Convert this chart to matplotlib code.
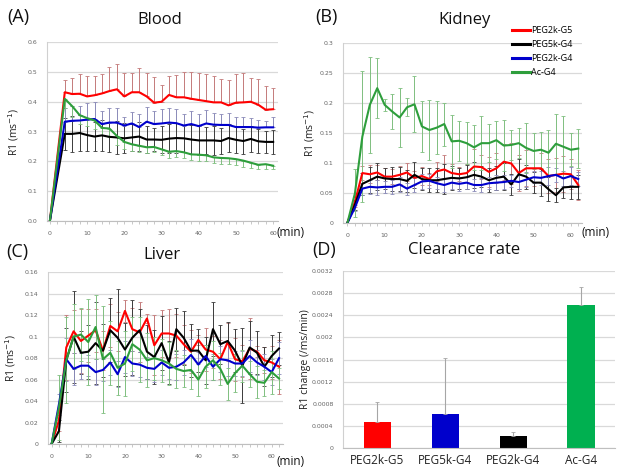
import matplotlib
matplotlib.use("Agg")
import matplotlib.pyplot as plt
from matplotlib.ticker import MultipleLocator

# ---------------- data ----------------
series_names = ["PEG2k-G5", "PEG5k-G4", "PEG2k-G4", "Ac-G4"]

# Blood (A)
blood_t = [0, 4, 6, 8, 10, 12, 14, 16, 18, 20, 22, 24, 26, 28, 30, 32, 34, 36, 38, 40,
           42, 44, 46, 48, 50, 52, 54, 56, 58, 60]
blood_red = [0, 0.432, 0.426, 0.427, 0.418, 0.422, 0.428, 0.436, 0.442, 0.418, 0.432, 0.432,
             0.418, 0.397, 0.400, 0.423, 0.415, 0.415, 0.410, 0.406, 0.402, 0.398, 0.398,
             0.388, 0.397, 0.398, 0.400, 0.390, 0.373, 0.375]
blood_black = [0, 0.292, 0.292, 0.295, 0.288, 0.283, 0.287, 0.282, 0.280, 0.277, 0.280, 0.283,
               0.273, 0.273, 0.272, 0.276, 0.278, 0.277, 0.273, 0.270, 0.270, 0.270, 0.268,
               0.278, 0.272, 0.268, 0.275, 0.267, 0.265, 0.265]
blood_blue = [0, 0.333, 0.336, 0.337, 0.340, 0.342, 0.325, 0.330, 0.330, 0.320, 0.327, 0.315,
              0.333, 0.325, 0.327, 0.330, 0.328, 0.320, 0.325, 0.318, 0.327, 0.323, 0.322,
              0.322, 0.315, 0.315, 0.315, 0.313, 0.314, 0.314]
blood_green = [0, 0.410, 0.385, 0.355, 0.345, 0.337, 0.312, 0.310, 0.285, 0.265, 0.257, 0.252,
               0.247, 0.248, 0.240, 0.232, 0.234, 0.230, 0.223, 0.222, 0.220, 0.213, 0.211,
               0.210, 0.207, 0.202, 0.195, 0.188, 0.190, 0.185]
blood_red_err = [0, 0.040, 0.055, 0.065, 0.070, 0.065, 0.065, 0.080, 0.085, 0.080, 0.065, 0.080,
                 0.080, 0.085, 0.055, 0.065, 0.075, 0.085, 0.090, 0.090, 0.090, 0.090, 0.080,
                 0.085, 0.095, 0.100, 0.080, 0.085, 0.080, 0.070]
blood_black_err = [0, 0.055, 0.060, 0.060, 0.055, 0.050, 0.052, 0.050, 0.055, 0.050, 0.045, 0.050,
                   0.045, 0.040, 0.045, 0.048, 0.050, 0.045, 0.050, 0.048, 0.045, 0.050, 0.045,
                   0.048, 0.045, 0.042, 0.045, 0.040, 0.038, 0.040]
blood_blue_err = [0, 0.045, 0.050, 0.050, 0.055, 0.058, 0.045, 0.050, 0.048, 0.030, 0.040, 0.045,
                  0.050, 0.045, 0.050, 0.050, 0.048, 0.040, 0.045, 0.040, 0.045, 0.040, 0.038,
                  0.040, 0.035, 0.035, 0.030, 0.025, 0.020, 0.035]
blood_green_err = [0, 0.030, 0.035, 0.030, 0.025, 0.028, 0.025, 0.030, 0.030, 0.025, 0.022, 0.020,
                   0.020, 0.018, 0.020, 0.022, 0.020, 0.018, 0.020, 0.022, 0.018, 0.020, 0.020,
                   0.018, 0.020, 0.020, 0.018, 0.015, 0.015, 0.010]

# Kidney (B)
kid_t = [0, 2, 4, 6, 8, 10, 12, 14, 16, 18, 20, 22, 24, 26, 28, 30, 32, 34, 36, 38, 40, 42,
         44, 46, 48, 50, 52, 54, 56, 58, 60, 62]
kid_red = [0, 0.035, 0.083, 0.081, 0.084, 0.077, 0.077, 0.080, 0.084, 0.075, 0.078, 0.073,
           0.086, 0.089, 0.083, 0.081, 0.083, 0.094, 0.093, 0.085, 0.091, 0.102, 0.099, 0.083,
           0.091, 0.091, 0.091, 0.078, 0.080, 0.082, 0.081, 0.063]
kid_black = [0, 0.030, 0.065, 0.071, 0.077, 0.074, 0.073, 0.073, 0.070, 0.080, 0.073, 0.071,
             0.071, 0.073, 0.075, 0.074, 0.076, 0.080, 0.077, 0.071, 0.075, 0.077, 0.064, 0.081,
             0.077, 0.067, 0.067, 0.056, 0.046, 0.059, 0.060, 0.060]
kid_blue = [0, 0.025, 0.057, 0.060, 0.059, 0.060, 0.060, 0.064, 0.057, 0.063, 0.069, 0.070,
            0.066, 0.063, 0.067, 0.065, 0.067, 0.063, 0.063, 0.066, 0.067, 0.068, 0.070, 0.068,
            0.072, 0.076, 0.075, 0.078, 0.080, 0.074, 0.078, 0.073]
kid_green = [0, 0.049, 0.144, 0.197, 0.225, 0.197, 0.186, 0.176, 0.193, 0.198, 0.161, 0.155,
             0.159, 0.165, 0.136, 0.137, 0.133, 0.126, 0.133, 0.133, 0.138, 0.129, 0.130, 0.133,
             0.125, 0.120, 0.122, 0.117, 0.132, 0.127, 0.122, 0.124]
kid_red_err = [0, 0.008, 0.012, 0.015, 0.012, 0.015, 0.012, 0.015, 0.015, 0.012, 0.015, 0.010,
               0.016, 0.025, 0.015, 0.012, 0.015, 0.030, 0.020, 0.025, 0.025, 0.030, 0.035, 0.030,
               0.030, 0.030, 0.025, 0.028, 0.028, 0.030, 0.025, 0.025]
kid_black_err = [0, 0.008, 0.018, 0.022, 0.022, 0.018, 0.020, 0.020, 0.018, 0.022, 0.018, 0.020,
                 0.020, 0.025, 0.020, 0.018, 0.020, 0.022, 0.018, 0.020, 0.020, 0.022, 0.018, 0.025,
                 0.020, 0.018, 0.022, 0.020, 0.012, 0.018, 0.020, 0.020]
kid_blue_err = [0, 0.005, 0.010, 0.012, 0.012, 0.010, 0.012, 0.012, 0.010, 0.012, 0.012, 0.012,
                0.010, 0.012, 0.010, 0.012, 0.010, 0.010, 0.012, 0.010, 0.012, 0.012, 0.010, 0.012,
                0.012, 0.010, 0.012, 0.015, 0.012, 0.012, 0.015, 0.012]
kid_green_err = [0, 0.040, 0.110, 0.080, 0.050, 0.010, 0.030, 0.050, 0.015, 0.047, 0.042, 0.050,
                 0.044, 0.036, 0.044, 0.033, 0.035, 0.038, 0.045, 0.032, 0.032, 0.042, 0.025, 0.025,
                 0.042, 0.030, 0.030, 0.038, 0.050, 0.052, 0.028, 0.032]

# Liver (C)
liv_t = kid_t
liv_red = [0, 0.022, 0.090, 0.105, 0.096, 0.101, 0.106, 0.087, 0.110, 0.105, 0.124, 0.107,
           0.104, 0.117, 0.092, 0.103, 0.103, 0.101, 0.093, 0.086, 0.097, 0.088, 0.086, 0.079,
           0.095, 0.079, 0.077, 0.089, 0.086, 0.078, 0.076, 0.072]
liv_black = [0, 0.012, 0.078, 0.100, 0.085, 0.086, 0.094, 0.087, 0.106, 0.099, 0.088, 0.099,
             0.106, 0.086, 0.081, 0.094, 0.076, 0.107, 0.099, 0.087, 0.087, 0.078, 0.107, 0.093,
             0.096, 0.087, 0.073, 0.090, 0.085, 0.072, 0.082, 0.089]
liv_blue = [0, 0.037, 0.079, 0.070, 0.073, 0.073, 0.067, 0.069, 0.076, 0.065, 0.081, 0.075,
            0.074, 0.071, 0.070, 0.076, 0.071, 0.072, 0.076, 0.083, 0.074, 0.082, 0.072, 0.079,
            0.078, 0.075, 0.075, 0.082, 0.076, 0.072, 0.067, 0.080]
liv_green = [0, 0.034, 0.078, 0.100, 0.102, 0.095, 0.109, 0.079, 0.085, 0.071, 0.075, 0.093,
             0.088, 0.078, 0.080, 0.078, 0.075, 0.070, 0.068, 0.069, 0.060, 0.072, 0.078, 0.070,
             0.056, 0.066, 0.073, 0.065, 0.058, 0.057, 0.067, 0.061]
liv_red_err = [0, 0.010, 0.030, 0.020, 0.030, 0.025, 0.020, 0.018, 0.020, 0.018, 0.010, 0.020,
               0.028, 0.004, 0.028, 0.022, 0.023, 0.020, 0.018, 0.020, 0.005, 0.020, 0.015, 0.018,
               0.018, 0.020, 0.015, 0.028, 0.005, 0.012, 0.015, 0.025]
liv_black_err = [0, 0.010, 0.030, 0.043, 0.020, 0.025, 0.038, 0.025, 0.030, 0.045, 0.025, 0.035,
                 0.020, 0.025, 0.025, 0.025, 0.020, 0.020, 0.025, 0.025, 0.020, 0.022, 0.025, 0.018,
                 0.018, 0.020, 0.035, 0.025, 0.020, 0.018, 0.020, 0.015]
liv_blue_err = [0, 0.010, 0.020, 0.015, 0.012, 0.010, 0.012, 0.010, 0.012, 0.012, 0.015, 0.012,
                0.012, 0.010, 0.012, 0.012, 0.010, 0.012, 0.012, 0.015, 0.012, 0.010, 0.012, 0.012,
                0.015, 0.012, 0.012, 0.015, 0.012, 0.012, 0.012, 0.015]
liv_green_err = [0, 0.030, 0.040, 0.030, 0.025, 0.040, 0.030, 0.050, 0.030, 0.025, 0.030, 0.025,
                 0.030, 0.025, 0.020, 0.020, 0.020, 0.018, 0.015, 0.018, 0.015, 0.020, 0.018, 0.015,
                 0.015, 0.018, 0.015, 0.012, 0.015, 0.012, 0.020, 0.010]

# Clearance rate (D)
clear_labels = ["PEG2k-G5", "PEG5k-G4", "PEG2k-G4", "Ac-G4"]
clear_vals = [0.00047, 0.000625, 0.000215, 0.00258]
clear_err = [0.00036, 0.00100, 0.000075, 0.00033]

# ---------------- style ----------------
line_colors = ["#ff0000", "#000000", "#0000cc", "#2e9e3c"]
err_colors = ["#c47a7a", "#3a3a3a", "#8a8ab8", "#7fbf7f"]
bar_colors = ["#ff0000", "#0000cc", "#000000", "#00b050"]
grid_c = "#d9d9d9"
tick_c = "#666666"
TXT = ["Open Sans", "DejaVu Sans"]

W, H = 624, 473
fig = plt.figure(figsize=(W / 100, H / 100), dpi=100)


def px_ax(l, t, r, b):
    return fig.add_axes([l / W, 1 - b / H, (r - l) / W, (b - t) / H])


def style_ax(ax):
    for s in ["top", "right"]:
        ax.spines[s].set_visible(False)
    ax.spines["left"].set_color("#d0d0d0")
    ax.spines["bottom"].set_color("#bfbfbf")
    ax.spines["left"].set_linewidth(0.8)
    ax.spines["bottom"].set_linewidth(0.8)
    ax.yaxis.grid(True, color=grid_c, linewidth=0.9)
    ax.set_axisbelow(True)
    ax.tick_params(axis="y", length=0, pad=7, labelsize=4.5, labelcolor=tick_c)
    ax.tick_params(axis="x", which="both", direction="out", length=2.5, width=0.6,
                   color="#bfbfbf", labelsize=4.5, labelcolor=tick_c, pad=5)


def draw_time(ax, t, ys, errs, dirs):
    for y, e, c, ec, d in zip(ys, errs, line_colors, err_colors, dirs):
        lo = e if d in ("both", "down") else [0] * len(e)
        hi = e if d in ("both", "up") else [0] * len(e)
        ax.errorbar(t, y, yerr=[lo, hi], fmt="none", ecolor=ec, elinewidth=0.7,
                    capsize=1.3, capthick=0.6, zorder=2)
    for y, c in zip(ys, line_colors):
        ax.plot(t, y, color=c, linewidth=1.5, zorder=3)
    ax.xaxis.set_major_locator(MultipleLocator(10))
    ax.xaxis.set_minor_locator(MultipleLocator(2))


# A Blood
axA = px_ax(47.3, 42.3, 278, 220.7)
style_ax(axA)
draw_time(axA, blood_t, [blood_red, blood_black, blood_blue, blood_green],
          [blood_red_err, blood_black_err, blood_blue_err, blood_green_err],
          ["up", "both", "up", "down"])
axA.set_xlim(-0.7, 61.3)
axA.set_ylim(0, 0.6)
axA.set_yticks([0, 0.1, 0.2, 0.3, 0.4, 0.5, 0.6])
axA.set_yticklabels(["0.0", "0.1", "0.2", "0.3", "0.4", "0.5", "0.6"])

# B Kidney
axB = px_ax(343, 43.3, 582, 222.7)
style_ax(axB)
draw_time(axB, kid_t, [kid_red, kid_black, kid_blue, kid_green],
          [kid_red_err, kid_black_err, kid_blue_err, kid_green_err],
          ["both", "both", "both", "both"])
axB.set_xlim(-1.2, 63)
axB.set_ylim(0, 0.3)
axB.set_yticks([0, 0.05, 0.1, 0.15, 0.2, 0.25, 0.3])
axB.set_yticklabels(["0", "0.05", "0.1", "0.15", "0.2", "0.25", "0.3"])

# C Liver
axC = px_ax(48.3, 272.3, 282.7, 444)
style_ax(axC)
draw_time(axC, liv_t, [liv_red, liv_black, liv_blue, liv_green],
          [liv_red_err, liv_black_err, liv_blue_err, liv_green_err],
          ["both", "both", "both", "both"])
axC.set_xlim(-0.9, 63)
axC.set_ylim(0, 0.16)
axC.set_yticks([0, 0.02, 0.04, 0.06, 0.08, 0.1, 0.12, 0.14, 0.16])
axC.set_yticklabels(["0", "0.02", "0.04", "0.06", "0.08", "0.1", "0.12", "0.14", "0.16"])

# D Clearance rate
axD = px_ax(343.3, 270.7, 615, 448.3)
style_ax(axD)
xpos = list(range(len(clear_labels)))
axD.bar(xpos, clear_vals, width=0.4, color=bar_colors, zorder=2)
axD.errorbar(xpos, clear_vals, yerr=[[0] * 4, clear_err], fmt="none", ecolor="#a6a6a6",
             elinewidth=0.8, capsize=1.5, capthick=0.6, zorder=3)
axD.set_xlim(-0.5, 3.5)
axD.set_ylim(0, 0.0032)
dt = [0, 0.0004, 0.0008, 0.0012, 0.0016, 0.002, 0.0024, 0.0028, 0.0032]
axD.set_yticks(dt)
axD.set_yticklabels(["0", "0.0004", "0.0008", "0.0012", "0.0016", "0.002", "0.0024",
                     "0.0028", "0.0032"])
axD.set_xticks(xpos)
axD.set_xticklabels(clear_labels, fontsize=8.5, color="#222222", family=TXT)
axD.tick_params(axis="x", length=0, pad=4, labelsize=8.5, labelcolor="#222222")

# labels
ylab = "R1 (ms$^{-1}$)"
axA.set_ylabel(ylab, fontsize=7.5, family=TXT, labelpad=5, color="#222222")
axB.set_ylabel(ylab, fontsize=7.5, family=TXT, labelpad=2, color="#222222")
axC.set_ylabel(ylab, fontsize=7.5, family=TXT, labelpad=5, color="#222222")
axD.set_ylabel("R1 change (/ms/min)", fontsize=7.5, family=TXT, labelpad=1, color="#222222")

def ftxt(x, y, s, size, **kw):
    fig.text(x / W, 1 - y / H, s, fontsize=size, family=TXT, ha="center", va="center",
             color="#111111", **kw)

ftxt(18, 17, "(A)", 13)
ftxt(326, 17, "(B)", 13)
ftxt(17, 252, "(C)", 13)
ftxt(324, 250, "(D)", 13)
ftxt(160, 20, "Blood", 12)
ftxt(465, 20, "Kidney", 12)
ftxt(162, 255, "Liver", 12)
ftxt(464, 250, "Clearance rate", 12)
ftxt(291, 232, "(min)", 8.5)
ftxt(596, 232, "(min)", 8.5)
ftxt(291, 461, "(min)", 8.5)

# legend
handles = [plt.Line2D([], [], color=c, linewidth=2.2) for c in line_colors]
fig.legend(handles, series_names, loc="upper left", bbox_to_anchor=(512 / W, 1 - 26 / H),
           frameon=False, handlelength=2.0, handletextpad=0.1,
           labelspacing=0.55, borderaxespad=0, borderpad=0,
           prop={"family": TXT, "size": 6.5})

fig.savefig("out.png", dpi=100)
